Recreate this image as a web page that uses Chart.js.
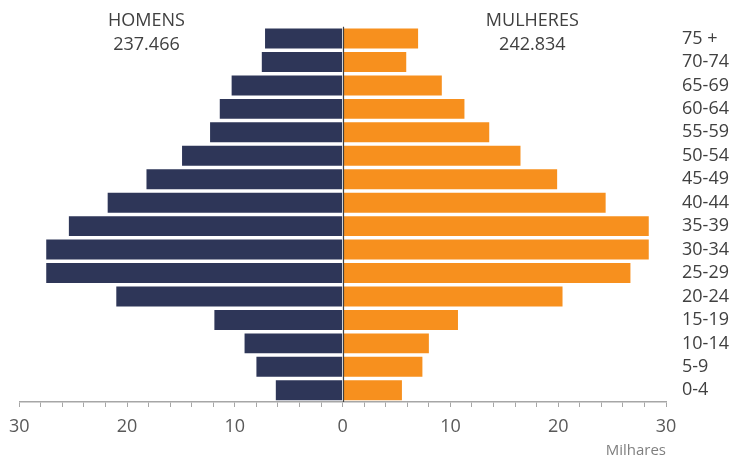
<!DOCTYPE html>
<html>
<head>
<meta charset="utf-8">
<script src="https://cdn.jsdelivr.net/npm/chart.js@4/dist/chart.umd.min.js"></script>
<style>
  html, body { margin: 0; padding: 0; background: #ffffff; }
  #wrap { width: 735px; height: 460px; position: relative; }
</style>
</head>
<body>
<div id="wrap"><canvas id="c" width="735" height="460"></canvas></div>
<script>
const categories = ['75 +','70-74','65-69','60-64','55-59','50-54','45-49','40-44','35-39','30-34','25-29','20-24','15-19','10-14','5-9','0-4'];
const homens   = [7.2, 7.5, 10.3, 11.4, 12.3, 14.9, 18.2, 21.8, 25.4, 27.5, 27.5, 21.0, 11.9, 9.1, 8.0, 6.2];
const mulheres = [7.0, 5.9, 9.2, 11.3, 13.6, 16.5, 19.9, 24.4, 28.4, 28.4, 26.7, 20.4, 10.7, 8.0, 7.4, 5.5];
const seriesNames = ['HOMENS', 'MULHERES'];
const seriesTotals = ['237.466', '242.834'];
const axisMin = -30, axisMax = 30, minorStep = 2, majorStep = 10;
const axisTitle = 'Milhares';

const FONT = '"Open Sans", sans-serif';

const annotations = {
  id: 'annotations',
  afterDatasetsDraw(chart) {
    const ctx = chart.ctx;
    const xs = chart.scales.x;
    const area = chart.chartArea;
    const x0 = Math.round(xs.getPixelForValue(0)) + 0.5;
    ctx.save();
    ctx.strokeStyle = '#404040';
    ctx.lineWidth = 1.2;
    ctx.beginPath();
    ctx.moveTo(x0, area.top);
    ctx.lineTo(x0, area.bottom);
    ctx.stroke();

    ctx.fillStyle = '#404040';
    ctx.font = '18px ' + FONT;
    ctx.textAlign = 'center';
    ctx.textBaseline = 'middle';
    const xl = xs.getPixelForValue(-18.2);
    const xr = xs.getPixelForValue(17.6);
    ctx.fillText(seriesNames[0], xl, 21);
    ctx.fillText(seriesTotals[0], xl, 45);
    ctx.fillText(seriesNames[1], xr, 21);
    ctx.fillText(seriesTotals[1], xr, 45);
    ctx.restore();
  }
};

new Chart(document.getElementById('c'), {
  type: 'bar',
  data: {
    labels: categories,
    datasets: [
      {
        label: seriesNames[0],
        data: homens.map(v => -v),
        backgroundColor: '#2E3658',
        barPercentage: 0.85,
        categoryPercentage: 1.0
      },
      {
        label: seriesNames[1],
        data: mulheres,
        backgroundColor: '#F7901E',
        barPercentage: 0.85,
        categoryPercentage: 1.0
      }
    ]
  },
  options: {
    indexAxis: 'y',
    responsive: false,
    animation: false,
    devicePixelRatio: 1,
    layout: { padding: { left: 9, right: 0, top: 23, bottom: 0 } },
    plugins: {
      legend: { display: false },
      tooltip: { enabled: false }
    },
    scales: {
      x: {
        stacked: true,
        min: axisMin,
        max: axisMax,
        afterFit(scale) { scale.height = 58; },
        ticks: {
          stepSize: minorStep,
          autoSkip: false,
          maxRotation: 0,
          padding: 9,
          color: '#595959',
          font: { family: FONT, size: 18 },
          callback: (v) => (v % majorStep === 0 ? String(Math.abs(v)) : '')
        },
        grid: {
          display: true,
          drawOnChartArea: false,
          drawTicks: true,
          tickLength: 5,
          color: '#A6A6A6',
          lineWidth: 1
        },
        border: { display: true, color: '#A6A6A6', width: 1.5 },
        title: {
          display: true,
          text: axisTitle,
          align: 'end',
          color: '#7F7F7F',
          font: { family: FONT, size: 15 },
          padding: { top: 0, bottom: 0 }
        }
      },
      y: {
        stacked: true,
        position: 'right',
        afterFit(scale) { scale.width = 69; },
        grid: { display: false, drawTicks: false },
        border: { display: false },
        ticks: {
          autoSkip: false,
          padding: 16,
          color: '#404040',
          font: { family: FONT, size: 18 }
        }
      }
    }
  },
  plugins: [annotations]
});
</script>
</body>
</html>
